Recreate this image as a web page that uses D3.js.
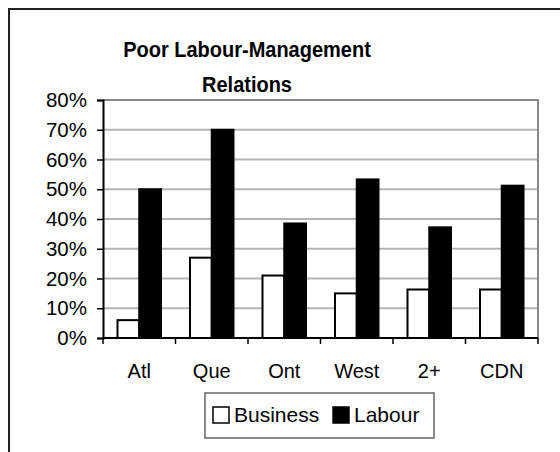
<!DOCTYPE html>
<html>
<head>
<meta charset="utf-8">
<script src="https://cdn.jsdelivr.net/npm/d3@7"></script>
<style>
  body { margin: 0; background: #fff; }
  svg { display: block; font-family: "Liberation Sans", Arial, sans-serif; }
</style>
</head>
<body>
<svg width="560" height="452"></svg>
<script>
// chart data
var categories = ["Atl", "Que", "Ont", "West", "2+", "CDN"];
var seriesNames = ["Business", "Labour"];
var business = [0.06, 0.27, 0.21, 0.15, 0.163, 0.163];
var labour = [0.50, 0.70, 0.385, 0.533, 0.372, 0.512];
var yTicks = [0, 0.1, 0.2, 0.3, 0.4, 0.5, 0.6, 0.7, 0.8];
var titleLines = ["Poor Labour-Management", "Relations"];

var fills = { Business: "#fff", Labour: "#000" };
var rows = categories.map(function(c, i) {
  return { cat: c, Business: business[i], Labour: labour[i] };
});

var svg = d3.select("svg");
var plotLeft = 103, plotRight = 538, plotTop = 100, plotBottom = 338;

// outer chart border (runs off the right and bottom)
svg.append("rect")
  .attr("x", 9).attr("y", 9)
  .attr("width", 600).attr("height", 500)
  .style("fill", "none").style("stroke", "#222").style("stroke-width", 2);

// title (glyphs a bit taller than plain Arial in the original)
svg.append("text")
  .attr("transform", "translate(247,0) scale(1,1.12)")
  .attr("y", 50.5)
  .attr("text-anchor", "middle")
  .style("font-size", "20px").style("font-weight", "bold")
  .selectAll("tspan")
  .data(titleLines).enter()
  .append("tspan")
  .attr("x", 0)
  .attr("dy", function(d, i) { return i == 0 ? 0 : 31.5; })
  .text(function(d) { return d; });

var x0 = d3.scaleBand().domain(categories).range([plotLeft, plotRight])
  .paddingInner(0.4).paddingOuter(0.2);
var x1 = d3.scaleBand().domain(seriesNames).range([0, x0.bandwidth()]);
var y = d3.scaleLinear().domain([0, 0.8]).range([plotBottom, plotTop]);

// gridlines
svg.append("g").selectAll("line")
  .data(yTicks.slice(1)).enter()
  .append("line")
  .attr("x1", plotLeft).attr("x2", plotRight)
  .attr("y1", function(d) { return y(d); })
  .attr("y2", function(d) { return y(d); })
  .style("stroke", "#b4b4b4").style("stroke-width", 2);

// plot frame (top / right)
svg.append("path")
  .attr("d", "M" + plotLeft + "," + plotTop + "H" + plotRight + "V" + plotBottom)
  .style("fill", "none").style("stroke", "#888").style("stroke-width", 2);

// bars
var groups = svg.append("g").selectAll("g")
  .data(rows).enter()
  .append("g")
  .attr("transform", function(d) { return "translate(" + x0(d.cat) + ",0)"; });

groups.selectAll("rect")
  .data(function(d) { return seriesNames.map(function(s) { return { key: s, value: d[s] }; }); })
  .enter().append("rect")
  .attr("x", function(d) { return x1(d.key); })
  .attr("y", function(d) { return y(d.value); })
  .attr("width", x1.bandwidth())
  .attr("height", function(d) { return plotBottom - y(d.value); })
  .style("fill", function(d) { return fills[d.key]; })
  .style("stroke", "#000").style("stroke-width", 2);

// y axis
var yAxis = svg.append("g")
  .attr("transform", "translate(" + plotLeft + ",0)")
  .call(d3.axisLeft(y).tickValues(yTicks).tickFormat(d3.format(".0%")).tickSize(6).tickPadding(10));
yAxis.select(".domain").style("stroke", "#000").style("stroke-width", 2);
yAxis.selectAll(".tick line").style("stroke", "#000").style("stroke-width", 1.5);
yAxis.selectAll("text").style("font-size", "20.5px").style("fill", "#000").attr("font-family", null);

// x axis: labels centred on categories, ticks at category boundaries
var xAxis = svg.append("g")
  .attr("transform", "translate(0," + plotBottom + ")")
  .call(d3.axisBottom(x0).tickSize(0).tickPadding(26));
xAxis.select(".domain").remove();
xAxis.selectAll("text").style("font-size", "20px").style("fill", "#000").attr("font-family", null);

var step = x0.step();
var bounds = [plotLeft].concat(categories.map(function(c) { return x0(c) - step * 0.2 + step; }));
svg.append("line")
  .attr("x1", plotLeft).attr("x2", plotRight).attr("y1", plotBottom).attr("y2", plotBottom)
  .style("stroke", "#000").style("stroke-width", 2);
svg.append("g").selectAll("line")
  .data(bounds).enter()
  .append("line")
  .attr("x1", function(d) { return d; }).attr("x2", function(d) { return d; })
  .attr("y1", plotBottom).attr("y2", plotBottom + 6)
  .style("stroke", "#000").style("stroke-width", 1.5);

// legend
var legend = svg.append("g").attr("transform", "translate(205,393)");
legend.append("rect")
  .attr("width", 229).attr("height", 45)
  .style("fill", "#fff").style("stroke", "#666").style("stroke-width", 1.5);
var items = legend.selectAll("g.item")
  .data(seriesNames).enter()
  .append("g")
  .attr("transform", function(d, i) { return "translate(" + (i == 0 ? 8 : 128) + ",0)"; });
items.append("rect")
  .attr("x", 0).attr("y", 14).attr("width", 16).attr("height", 16)
  .style("fill", function(d) { return fills[d]; })
  .style("stroke", "#000").style("stroke-width", 1.5);
items.append("text")
  .attr("x", 21).attr("y", 29)
  .style("font-size", "21px")
  .text(function(d) { return d; });
</script>
</body>
</html>
